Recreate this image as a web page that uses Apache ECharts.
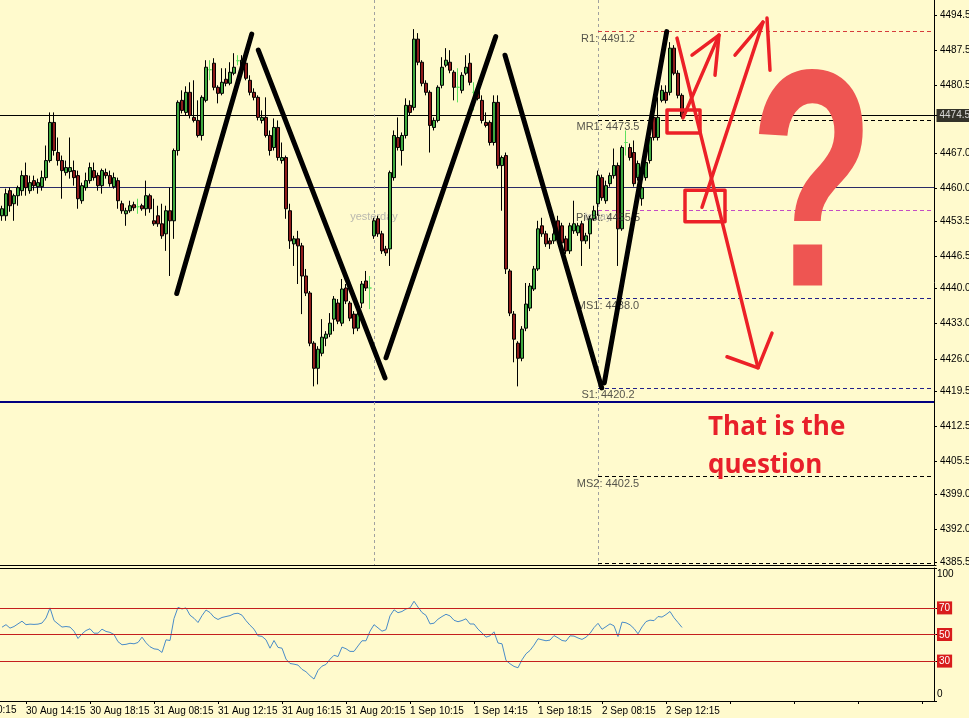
<!DOCTYPE html>
<html><head><meta charset="utf-8">
<script src="https://cdn.jsdelivr.net/npm/echarts@6/dist/echarts.min.js"></script>
<style>html,body{margin:0;padding:0;background:#fffacd;}#c{width:969px;height:718px;}</style>
</head><body><div id="c"></div>
<script>
// ---- DATA ----
// candles: [open, close, low, high]
const candles = [
[4454.5,4455.9,4453.5,4456.5],[4454.5,4458.9,4453.5,4459.9],[4459.5,4456.5,4455.3,4460.1],[4456.9,4458.5,4453.5,4458.9],
[4458.5,4460.1,4456.5,4460.5],[4459.5,4462.5,4458.5,4463.5],[4462.5,4460.1,4458.5,4465.1],[4459.5,4461.1,4458.9,4462.5],
[4461.5,4460.5,4459.5,4462.5],[4460.3,4461.1,4458.9,4461.9],[4460.3,4462.1,4459.5,4463.5],[4462.1,4465.5,4461.5,4468.5],
[4465.5,4473.1,4465.1,4475.1],[4473.1,4467.5,4466.5,4475.1],[4467.1,4465.5,4464.5,4470.1],[4465.5,4463.5,4457.9,4466.5],
[4463.1,4464.1,4462.5,4465.5],[4463.3,4464.1,4461.9,4470.1],[4463.5,4462.1,4460.5,4465.5],[4462.5,4457.9,4455.9,4463.5],
[4457.5,4460.5,4456.9,4461.1],[4460.1,4461.5,4459.5,4463.1],[4461.5,4464.1,4460.9,4465.1],[4463.5,4462.1,4461.5,4465.1],
[4462.5,4460.5,4459.5,4463.1],[4460.5,4463.5,4458.9,4463.9],[4463.1,4462.5,4461.9,4463.9],[4462.5,4460.9,4460.3,4463.5],
[4460.3,4462.1,4459.9,4463.1],[4461.5,4457.5,4455.9,4462.1],[4456.9,4455.5,4454.9,4457.5],[4454.9,4455.5,4452.5,4456.1],
[4455.5,4456.5,4455.1,4457.5],[4456.7,4456.1,4455.5,4457.3],[4456.3,4456.3,4454.9,4457.9],[4456.5,4455.9,4455.5,4456.9],
[4455.9,4458.5,4454.5,4461.5],[4458.5,4455.9,4455.1,4458.9],[4453.5,4452.9,4452.5,4457.9],[4454.5,4452.9,4452.3,4456.5],
[4452.9,4450.5,4449.9,4456.9],[4450.9,4455.5,4447.5,4456.5],[4455.5,4453.5,4442.5,4460.1],[4453.5,4467.5,4449.9,4467.9],
[4467.5,4477.1,4466.5,4477.5],[4477.5,4475.5,4474.9,4479.5],[4475.1,4479.1,4474.5,4480.3],[4479.1,4474.5,4473.9,4481.1],
[4474.1,4473.5,4473.1,4481.5],[4473.5,4470.5,4470.1,4477.5],[4470.5,4478.1,4469.5,4478.5],[4477.5,4484.1,4477.1,4485.5],
[4483.6,4483.6,4481.5,4485.5],[4484.9,4480.1,4479.5,4485.9],[4480.1,4478.9,4476.9,4480.5],[4478.9,4481.1,4478.5,4483.9],
[4481.7,4480.9,4480.3,4483.9],[4480.9,4483.1,4480.5,4485.1],[4482.9,4484.1,4482.5,4486.9],[4485.4,4485.4,4484.5,4486.5],
[4484.1,4485.5,4483.5,4486.5],[4484.9,4481.9,4481.5,4486.9],[4481.5,4479.1,4478.5,4482.5],[4479.1,4478.1,4477.5,4479.9],
[4478.1,4474.1,4473.5,4478.5],[4473.5,4474.1,4472.9,4475.5],[4474.1,4470.5,4470.1,4478.1],[4470.5,4467.5,4466.5,4471.5],
[4468.1,4472.1,4467.5,4473.9],[4472.1,4466.1,4465.5,4473.5],[4465.5,4466.1,4464.9,4469.1],[4466.1,4455.9,4453.9,4466.5],
[4455.5,4449.5,4447.9,4456.9],[4448.9,4449.9,4444.5,4450.5],[4449.9,4448.5,4440.9,4451.5],[4448.5,4442.5,4434.9,4449.1],
[4442.5,4439.1,4438.5,4443.9],[4439.1,4429.1,4428.5,4439.5],[4429.1,4424.1,4420.5,4429.5],[4424.1,4427.9,4420.9,4428.5],
[4427.1,4430.3,4426.5,4433.9],[4430.1,4430.9,4428.5,4431.5],[4430.9,4433.1,4430.3,4435.1],[4433.9,4437.9,4431.5,4438.5],
[4437.1,4433.5,4432.9,4437.9],[4433.1,4439.9,4432.5,4441.9],[4440.1,4437.5,4436.9,4440.9],[4437.1,4434.1,4433.5,4437.5],
[4434.9,4432.1,4430.9,4435.5],[4432.1,4434.9,4431.5,4436.5],[4437.1,4440.9,4436.1,4441.5],[4441.5,4440.1,4439.5,4443.5],
[4440.1,4440.1,4435.9,4442.5],[4450.5,4453.5,4449.9,4454.1],[4453.9,4450.9,4450.3,4454.5],[4450.9,4447.5,4446.9,4451.5],
[4447.9,4447.1,4446.5,4448.5],[4447.9,4463.1,4444.5,4463.5],[4462.1,4470.5,4461.5,4471.5],[4470.1,4468.1,4467.5,4474.1],
[4467.5,4470.5,4464.5,4471.1],[4470.5,4476.5,4469.9,4477.9],[4476.5,4475.1,4474.5,4477.5],[4476.1,4489.7,4475.5,4491.7],
[4489.7,4485.1,4484.5,4490.9],[4485.1,4480.9,4480.3,4485.5],[4480.9,4479.1,4478.5,4481.5],[4479.1,4472.5,4467.1,4479.5],
[4472.1,4473.5,4471.5,4474.1],[4473.5,4480.1,4473.1,4480.5],[4480.5,4484.1,4479.9,4486.1],[4484.5,4485.5,4484.1,4487.9],
[4485.1,4483.5,4482.9,4487.5],[4483.1,4480.1,4477.5,4483.5],[4480.1,4480.1,4477.1,4483.9],[4479.5,4482.5,4478.9,4483.1],
[4482.9,4484.1,4482.5,4486.5],[4484.9,4481.1,4480.5,4486.9],[4479.1,4479.1,4475.5,4481.1],[4479.5,4477.9,4477.5,4479.9],
[4477.5,4473.5,4472.9,4478.5],[4473.1,4472.5,4472.1,4475.1],[4473.1,4469.1,4468.5,4473.5],[4469.1,4477.1,4468.5,4478.5],
[4477.1,4464.5,4463.9,4478.5],[4464.5,4466.1,4455.5,4466.5],[4466.5,4443.9,4442.9,4467.1],[4443.5,4435.1,4434.5,4443.9],
[4434.9,4429.9,4425.3,4435.5],[4429.1,4426.1,4420.5,4429.5],[4426.1,4431.9,4425.5,4432.5],[4432.1,4436.9,4431.5,4441.1],
[4436.1,4440.5,4435.5,4441.1],[4439.9,4443.9,4439.5,4444.5],[4443.9,4451.9,4443.5,4453.5],[4452.5,4450.9,4450.3,4454.1],
[4450.9,4448.9,4448.3,4451.5],[4449.5,4448.9,4447.9,4450.1],[4449.5,4450.9,4448.9,4451.9],[4453.5,4450.1,4449.5,4454.5],
[4452.5,4449.1,4448.5,4453.1],[4449.9,4447.5,4446.9,4450.5],[4447.5,4452.5,4446.9,4453.1],[4451.5,4452.9,4450.9,4457.5],
[4451.1,4452.5,4450.5,4453.1],[4452.9,4449.5,4444.5,4453.5],[4449.5,4450.5,4448.9,4451.1],[4450.9,4453.9,4447.9,4454.5],
[4453.9,4455.5,4453.5,4456.5],[4456.9,4462.5,4454.5,4463.5],[4462.1,4458.1,4457.5,4462.7],[4457.5,4460.5,4456.9,4461.5],
[4460.9,4462.5,4460.3,4463.1],[4462.5,4464.5,4461.9,4467.9],[4464.5,4451.9,4444.5,4465.1],[4451.9,4468.1,4451.5,4468.5],
[4469.1,4469.1,4466.5,4471.5],[4468.1,4466.1,4465.5,4468.9],[4467.1,4460.9,4460.3,4469.5],[4462.1,4464.9,4461.5,4465.5],
[4457.9,4460.1,4456.5,4460.5],[4462.1,4465.1,4461.5,4465.9],[4465.5,4470.1,4464.9,4472.5],[4474.1,4470.1,4469.5,4475.1],
[4470.1,4474.1,4469.5,4478.1],[4477.5,4479.5,4477.1,4480.5],[4479.1,4477.5,4476.9,4480.5],[4479.1,4487.9,4478.5,4489.1],
[4487.9,4482.9,4482.5,4488.5],[4482.9,4478.5,4477.9,4483.5],[4478.5,4474.3,4473.9,4478.9]
];
const rsi = [
55.5,57.4,54.8,56,58,60,57.4,57.8,57.6,57.8,
58.6,62.4,70,60.5,58,55.6,56,55.6,52.5,47,
50.5,53,54.3,51,51,54,52.3,51.6,50,44.6,
42.3,42.6,43.4,43,44,48,43.8,40.8,39.2,38.8,
36.5,46,45.5,62,70.4,69.2,70,64.5,62.2,59,
64.2,68.4,66.5,63,61.3,62.8,63.5,64.2,65.6,66,
64.5,60.4,57,54,49,48.6,46,39.7,45.5,40.3,
39.7,31.5,28.2,27.7,27,23.8,22,19,16.5,23,
26.2,27.5,31.4,34.4,33.4,40.5,39.3,37.3,37.3,41.4,
45.3,45.3,52.5,57.4,55,52.5,53.6,64,68.6,66.4,
67.3,69.2,70,75,70.6,66.5,64.4,58,58.5,61.5,
63.5,65.2,64,60.7,59.6,60.5,61.8,57.9,57.9,54,
51.2,48,49,52,43.6,43,30.5,28,26,25,
31,35.5,38,42,46.8,46,45.3,45.8,49.2,47.5,
45.5,45,49,48.8,47.4,46.3,48,50.8,55.2,58.4,
53.9,55.9,58,56.5,48.5,59.3,58.8,57.3,54.5,50.5,
55.7,59.7,60.8,60.4,63.5,63.1,65,67.3,62.6,59,55.3
];
const timeLabels = ['30 Aug 14:15','30 Aug 18:15','31 Aug 08:15','31 Aug 12:15','31 Aug 16:15','31 Aug 20:15','1 Sep 10:15','1 Sep 14:15','1 Sep 18:15','2 Sep 08:15','2 Sep 12:15'];
const priceTicks = [4385.5,4392.0,4399.0,4405.5,4412.5,4419.5,4426.0,4433.0,4440.0,4446.5,4453.5,4460.0,4467.0,4474.5,4480.5,4487.5,4494.5];
const rsiTicks = [0,30,50,70,100];
const rsiLevels = [70,50,30];
const currentPrice = 4474.5;
const pivotNames  = ['R1','MR1','Pivot','MS1','S1','MS2','S2'];
const pivotValues = [4491.2,4473.5,4455.5,4438.0,4420.2,4402.5,4385.2];
const hLineValues = [4474.5,4460.1,4417.4];
const daySeparators = [93,149];
const dayNames = ['yesterday','today'];
// hand-drawn annotations in (bar index, price)
const zigzag = [
 [[43.68,4439.0],[62.43,4490.7]],
 [[64.08,4487.5],[95.75,4422.2]],
 [[96.0,4426.2],[123.43,4490.2]],
 [[125.75,4486.5],[149.93,4420.2]],
 [[150.58,4421.2],[166.18,4491.2]]
];
const redStrokes = [
 [[168.75,4489.9],[189.0,4424.2]],
 [[181.25,4426.4],[189.0,4424.2],[192.5,4431.1]],
 [[170.25,4474.0],[179.25,4490.5]],
 [[172.5,4486.5],[179.25,4490.5],[178.25,4482.5]],
 [[175.0,4456.2],[190.25,4493.1]],
 [[183.25,4486.5],[190.25,4493.1]],
 [[191.25,4493.9],[192.0,4483.5]],
 [[166.25,4475.6],[174.5,4475.6],[174.5,4471.0],[166.25,4471.0],[166.25,4475.6]],
 [[170.75,4459.6],[180.75,4459.6],[180.75,4453.3],[170.75,4453.3],[170.75,4459.6]]
];

// ---- CHART ----
const N = 234;
const cats = Array.from({length: N}, (_, i) => String(i));
const FONT = 'Liberation Sans';
const yMin = 4384.9, yMax = 4497.5;
const firstTick = 6, tickStep = 16;
const isTick = (i) => i >= firstTick && (i - firstTick) % tickStep === 0;

const pivotColors = ['#d63c3c','#000000','#c44cc4','#22228a','#22228a','#000000','#000000'];
const hLineStyles = [{color:'#000000',width:1},{color:'#2a2a66',width:1},{color:'#000080',width:2}];

const guideData = [];
hLineValues.forEach((v, k) => guideData.push({coords: [[-0.5, v], [233, v]], lineStyle: Object.assign({type:'solid', opacity:1}, hLineStyles[k])}));
daySeparators.forEach(d => guideData.push({coords: [[d, yMax], [d, yMin]], lineStyle: {color:'#a0a0a0', width:1, type:[3,3], opacity:1}}));
pivotValues.forEach((v, k) => guideData.push({coords: [[daySeparators[1], v], [233, v]], lineStyle: {color: pivotColors[k], width:1, type:[4,3], opacity:1}}));

const pivotLabelData = pivotValues.slice(0, 6).map((v, k) => ({value: [151.5, v], name: pivotNames[k] + ': ' + v.toFixed(1)}));
const dayLabelData = daySeparators.map((d, k) => ({value: [d, 4454.2], name: dayNames[k]}));
const axisPriceLabels = priceTicks.filter(v => v !== currentPrice);

const option = {
  animation: false,
  backgroundColor: '#fffacd',
  grid: [
    {left: 0, top: 0, width: 936, height: 565, containLabel: false, outerBoundsMode: 'none'},
    {left: 0, top: 568, width: 936, height: 133, containLabel: false, outerBoundsMode: 'none'}
  ],
  xAxis: [
    {gridIndex: 0, type: 'category', data: cats, boundaryGap: true,
     axisLine: {show: true, onZero: false, lineStyle: {color: '#000', width: 1}}, axisTick: {show: false}, axisLabel: {show: false}, splitLine: {show: false}},
    {gridIndex: 1, type: 'category', data: cats, boundaryGap: true, position: 'bottom',
     axisLine: {show: true, onZero: false, lineStyle: {color: '#000', width: 1}},
     axisTick: {show: true, interval: (i) => isTick(i), alignWithLabel: true, length: 3, lineStyle: {color: '#000'}},
     axisLabel: {show: true, interval: (i) => isTick(i), align: 'left', margin: 5, color: '#000', fontSize: 10, fontFamily: FONT,
       formatter: (val, idx) => timeLabels[(idx - firstTick) / tickStep] || ''},
     splitLine: {show: false}},
    {gridIndex: 0, type: 'value', min: -0.5, max: N - 0.5, show: false, axisLine: {onZero: false}},
    {gridIndex: 1, type: 'category', data: cats, position: 'top',
     axisLine: {show: true, onZero: false, lineStyle: {color: '#000', width: 1}}, axisTick: {show: false}, axisLabel: {show: false}, splitLine: {show: false}}
  ],
  yAxis: [
    {gridIndex: 0, type: 'value', position: 'right', offset: -2, min: yMin, max: yMax,
     axisLine: {show: true, onZero: false, lineStyle: {color: '#000', width: 1}},
     axisTick: {show: true, length: 3, customValues: priceTicks, lineStyle: {color: '#000'}},
     axisLabel: {show: true, customValues: axisPriceLabels, margin: 6, color: '#000', fontSize: 10, fontFamily: FONT,
       formatter: (v) => v.toFixed(1)},
     splitLine: {show: false}},
    {gridIndex: 1, type: 'value', position: 'right', offset: -2, min: 0, max: 100,
     axisLine: {show: true, onZero: false, lineStyle: {color: '#000', width: 1}},
     axisTick: {show: true, length: 3, customValues: rsiTicks, lineStyle: {color: '#000'}},
     axisLabel: {show: true, customValues: rsiTicks, margin: 3, color: '#000', fontSize: 10, fontFamily: FONT,
       formatter: (v) => v === 100 ? '{t|100}' : (v === 0 ? '{b|0}' : '{r|' + v + '}'),
       rich: {
         t: {fontSize: 10, fontFamily: FONT, color: '#000', padding: [13, 0, 0, 0]},
         b: {fontSize: 10, fontFamily: FONT, color: '#000', padding: [0, 0, 13, 0]},
         r: {fontSize: 10, fontFamily: FONT, color: '#fff', backgroundColor: '#d81c1c', padding: [2, 2, 1, 2]}
       }},
     splitLine: {show: false}}
  ],
  graphic: [
    {type: 'text', x: -3, y: 710, style: {text: '0:15', fill: '#000', font: '10px "Liberation Sans"', verticalAlign: 'middle', align: 'left'}},
    {type: 'text', x: 812, y: 200, scaleX: 0.66, z: 100, style: {text: '?', fill: '#ee5552', font: 'bold 310px "Liberation Sans"', align: 'center', verticalAlign: 'middle'}},
    {type: 'text', x: 708, y: 428, z: 100, style: {text: 'That is the', fill: '#e8202a', font: 'bold 26px "Open Sans"', align: 'left', verticalAlign: 'middle'}},
    {type: 'text', x: 708, y: 466, z: 100, style: {text: 'question', fill: '#e8202a', font: 'bold 26px "Open Sans"', align: 'left', verticalAlign: 'middle'}}
  ],
  series: [
    {type: 'lines', name: 'guides', coordinateSystem: 'cartesian2d', xAxisIndex: 2, yAxisIndex: 0, z: 1,
     silent: true, data: guideData, lineStyle: {opacity: 1}},
    {type: 'candlestick', name: 'price', xAxisIndex: 0, yAxisIndex: 0, data: candles, barWidth: 3, z: 3,
     itemStyle: {color: '#3fa83f', color0: '#8e1b1b', borderColor: '#000', borderColor0: '#000', borderColorDoji: '#5ee05e', borderWidth: 1}},
    {type: 'scatter', name: 'pivotLabels', xAxisIndex: 2, yAxisIndex: 0, z: 4, symbolSize: 1, silent: true,
     itemStyle: {color: 'rgba(0,0,0,0)'}, data: pivotLabelData,
     label: {show: true, position: 'inside', offset: [0, 7], formatter: '{b}', color: '#2b2b2b', fontSize: 11, fontFamily: FONT}},
    {type: 'scatter', name: 'dayLabels', xAxisIndex: 2, yAxisIndex: 0, z: 2, symbolSize: 1, silent: true,
     itemStyle: {color: 'rgba(0,0,0,0)'}, data: dayLabelData,
     label: {show: true, position: 'inside', formatter: '{b}', color: '#a8a8a8', fontSize: 11, fontFamily: FONT}},
    {type: 'scatter', name: 'currentPrice', xAxisIndex: 2, yAxisIndex: 0, z: 10, symbolSize: 1, silent: true,
     itemStyle: {color: 'rgba(0,0,0,0)'}, data: [{value: [233, currentPrice], name: currentPrice.toFixed(1)}],
     label: {show: true, position: 'right', distance: 2, formatter: '{b}', color: '#fff', backgroundColor: '#000',
       padding: [2, 3, 1, 3], fontSize: 10, fontFamily: FONT}},
    {type: 'lines', name: 'zigzag', coordinateSystem: 'cartesian2d', xAxisIndex: 2, yAxisIndex: 0, z: 5, silent: true,
     data: zigzag.map(c => ({coords: c})), lineStyle: {color: '#000', width: 5, opacity: 1, cap: 'round'}},
    {type: 'lines', name: 'red', coordinateSystem: 'cartesian2d', xAxisIndex: 2, yAxisIndex: 0, z: 6, silent: true, polyline: true,
     data: redStrokes.map(c => ({coords: c})), lineStyle: {color: '#ec2027', width: 3.5, opacity: 1, cap: 'round', join: 'round'}},
    {type: 'line', name: 'RSI', xAxisIndex: 1, yAxisIndex: 1, data: rsi, symbol: 'none', z: 3,
     lineStyle: {color: '#4a8cc8', width: 1},
     markLine: {silent: true, symbol: ['none', 'none'], label: {show: false},
       lineStyle: {color: '#c41e1e', width: 1, type: 'solid'},
       data: rsiLevels.map(v => ({yAxis: v}))}}
  ]
};
const chart = echarts.init(document.getElementById('c'));
chart.setOption(option);
</script></body></html>
